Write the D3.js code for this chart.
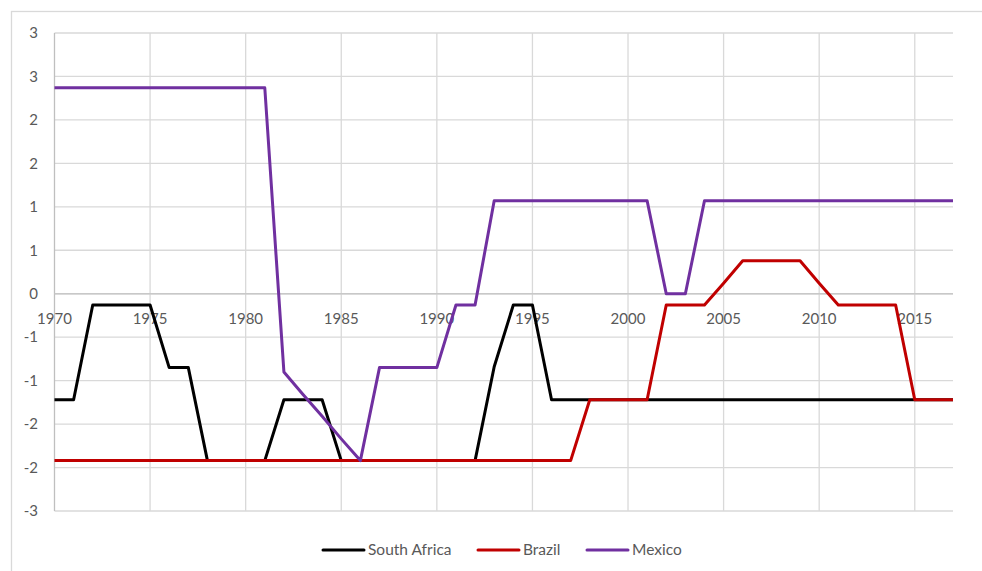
<!DOCTYPE html>
<html>
<head>
<meta charset="utf-8">
<script src="https://cdn.jsdelivr.net/npm/d3@7/dist/d3.min.js"></script>
<style>
  html, body { margin: 0; padding: 0; background: #fff; }
  svg { display: block; }
  text { font-family: Lato, "Open Sans", sans-serif; fill: #595959; }
</style>
</head>
<body>
<svg id="chart" width="982" height="571"></svg>
<script>
// Annual index values, 1970-2017
const years = d3.range(1970, 2018);

const southAfrica = [
  -1.22, -1.22, -0.13, -0.13, -0.13, -0.13, -0.85, -0.85, -1.92, -1.92,
  -1.92, -1.92, -1.22, -1.22, -1.22, -1.92, -1.92, -1.92, -1.92, -1.92,
  -1.92, -1.92, -1.92, -0.84, -0.13, -0.13, -1.22, -1.22, -1.22, -1.22,
  -1.22, -1.22, -1.22, -1.22, -1.22, -1.22, -1.22, -1.22, -1.22, -1.22,
  -1.22, -1.22, -1.22, -1.22, -1.22, -1.22, -1.22, -1.22
];

const brazil = [
  -1.92, -1.92, -1.92, -1.92, -1.92, -1.92, -1.92, -1.92, -1.92, -1.92,
  -1.92, -1.92, -1.92, -1.92, -1.92, -1.92, -1.92, -1.92, -1.92, -1.92,
  -1.92, -1.92, -1.92, -1.92, -1.92, -1.92, -1.92, -1.92, -1.22, -1.22,
  -1.22, -1.22, -0.13, -0.13, -0.13, 0.12, 0.38, 0.38, 0.38, 0.38,
  0.12, -0.13, -0.13, -0.13, -0.13, -1.22, -1.22, -1.22
];

const mexico = [
  2.37, 2.37, 2.37, 2.37, 2.37, 2.37, 2.37, 2.37, 2.37, 2.37,
  2.37, 2.37, -0.90, -1.16, -1.41, -1.67, -1.92, -0.85, -0.85, -0.85,
  -0.85, -0.13, -0.13, 1.07, 1.07, 1.07, 1.07, 1.07, 1.07, 1.07,
  1.07, 1.07, 0.00, 0.00, 1.07, 1.07, 1.07, 1.07, 1.07, 1.07,
  1.07, 1.07, 1.07, 1.07, 1.07, 1.07, 1.07, 1.07
];

const seriesNames = ["South Africa", "Brazil", "Mexico"];
const seriesColors = ["#000000", "#C00000", "#7030A0"];
const seriesValues = [southAfrica, brazil, mexico];

const yTicks = [3, 2.5, 2, 1.5, 1, 0.5, 0, -0.5, -1, -1.5, -2, -2.5];
const xTicks = [1970, 1975, 1980, 1985, 1990, 1995, 2000, 2005, 2010, 2015];

// whole-number labels, halves rounded away from zero, plain hyphen minus
const fmtWhole = d => (d < 0 ? "-" : "") + Math.abs(d).toFixed(0);

const svg = d3.select("#chart");

// chart area frame (extends past the window on the right and bottom)
svg.append("rect")
  .attr("x", 11.5).attr("y", 11.5)
  .attr("width", 990).attr("height", 590)
  .attr("fill", "#fff")
  .attr("stroke", "#d9d9d9")
  .attr("stroke-width", 1.3);

const x = d3.scaleLinear().domain([1970, 2017]).range([54.5, 953]);
const y = d3.scaleLinear().domain([-2.5, 3]).range([511, 33]);

// horizontal gridlines
svg.append("g")
  .selectAll("line")
  .data(yTicks)
  .join("line")
  .attr("x1", x(1970)).attr("x2", x(2017))
  .attr("y1", d => y(d)).attr("y2", d => y(d))
  .attr("stroke", "#d9d9d9")
  .attr("stroke-width", 1.3);

// vertical gridlines
svg.append("g")
  .selectAll("line")
  .data(xTicks.slice(1))
  .join("line")
  .attr("x1", d => x(d)).attr("x2", d => x(d))
  .attr("y1", y(3)).attr("y2", y(-2.5))
  .attr("stroke", "#d9d9d9")
  .attr("stroke-width", 1.3);

// value axis line
svg.append("line")
  .attr("x1", x(1970)).attr("x2", x(1970))
  .attr("y1", y(3)).attr("y2", y(-2.5))
  .attr("stroke", "#bfbfbf")
  .attr("stroke-width", 1.3);

// category axis crossing at zero
svg.append("line")
  .attr("x1", x(1970)).attr("x2", x(2017))
  .attr("y1", y(0)).attr("y2", y(0))
  .attr("stroke", "#c8c8c8")
  .attr("stroke-width", 1.3);

// y tick labels
svg.append("g")
  .selectAll("text")
  .data(yTicks)
  .join("text")
  .attr("x", 38)
  .attr("y", d => y(d))
  .attr("dy", "0.35em")
  .attr("text-anchor", "end")
  .attr("font-size", 15)
  .text(fmtWhole);

// x tick labels just below the zero line
svg.append("g")
  .selectAll("text")
  .data(xTicks)
  .join("text")
  .attr("x", d => x(d))
  .attr("y", y(0) + 25)
  .attr("dy", "0.35em")
  .attr("text-anchor", "middle")
  .attr("font-size", 15)
  .text(d => d);

// series lines
const line = d3.line()
  .x((d, i) => x(years[i]))
  .y(d => y(d));

svg.append("g")
  .selectAll("path")
  .data(seriesValues)
  .join("path")
  .attr("d", d => line(d))
  .attr("fill", "none")
  .attr("stroke", (d, i) => seriesColors[i])
  .attr("stroke-width", 3)
  .attr("stroke-linejoin", "round");

// legend
const legendX = [323, 478, 587];
const legend = svg.append("g")
  .selectAll("g")
  .data(seriesNames)
  .join("g")
  .attr("transform", (d, i) => `translate(${legendX[i]},550)`);

legend.append("line")
  .attr("x1", 0).attr("x2", 41)
  .attr("y1", 0).attr("y2", 0)
  .attr("stroke", (d, i) => seriesColors[i])
  .attr("stroke-width", 3)
  .attr("stroke-linecap", "round");

legend.append("text")
  .attr("x", 45)
  .attr("y", 0)
  .attr("dy", "0.35em")
  .attr("font-size", 15.5)
  .text(d => d);
</script>
</body>
</html>
